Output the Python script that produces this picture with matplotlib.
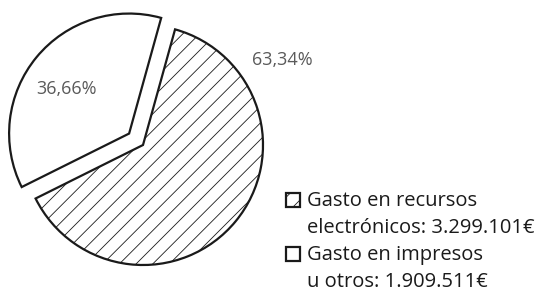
"""Gasto en recursos electrónicos frente a impresos."""
import matplotlib
matplotlib.use('Agg')
import matplotlib.pyplot as plt
from matplotlib.patches import Rectangle, Wedge
from matplotlib.legend_handler import HandlerPatch

plt.rcParams['font.family'] = ['Open Sans', 'DejaVu Sans']
plt.rcParams['hatch.linewidth'] = 0.6

# Datos
categorias = ['Gasto en recursos\nelectrónicos: 3.299.101€',
              'Gasto en impresos\nu otros: 1.909.511€']
gastos = [3299101, 1909511]
rellenos = ['//', '']
separacion = [0, 0.15]

total = sum(gastos)
porcentajes = [g / total * 100 for g in gastos]
etiquetas = [f'{p:.2f}'.replace('.', ',') + '%' for p in porcentajes]

fig = plt.figure(figsize=(5.4, 2.98), dpi=100)
ax = fig.add_axes([0, 0, 1, 1])

cuñas, _ = ax.pie(gastos, startangle=74.5, counterclock=False,
                  explode=separacion, colors=['white', 'white'],
                  wedgeprops=dict(edgecolor='#1a1a1a', linewidth=1.6))
for c, h in zip(cuñas, rellenos):
    c.set_hatch(h)

# limites para que el radio sea de 120 px y el centro en (143, 145)
r = 120
ax.set_xlim(-143 / r, (540 - 143) / r)
ax.set_ylim(-(298 - 145) / r, 145 / r)
ax.set_aspect('equal')
ax.axis('off')

ax.text(1.16, 0.71, etiquetas[0], ha='center', va='center',
        fontsize=13, color='#5a5a5a')
ax.text(-0.64, 0.47, etiquetas[1], ha='center', va='center',
        fontsize=13, color='#5a5a5a')


# cuadro de la leyenda alineado con la primera linea
def cuadro(legend, orig_handle, xdescent, ydescent, width, height, fontsize):
    lado = 0.68 * fontsize
    return Rectangle((0, 0.75 * fontsize), lado, lado)


leg = fig.legend(cuñas, categorias, loc='upper left',
                 bbox_to_anchor=(286 / 540, 1 - 191 / 298),
                 frameon=False, fontsize=14.5, handlelength=0.7,
                 handleheight=0.7, handletextpad=0.35, labelspacing=0.35,
                 borderpad=0, borderaxespad=0,
                 handler_map={Wedge: HandlerPatch(patch_func=cuadro)})
for t in leg.get_texts():
    t.set_linespacing(1.45)
    t.set_color('#1a1a1a')

plt.savefig('out.png')
